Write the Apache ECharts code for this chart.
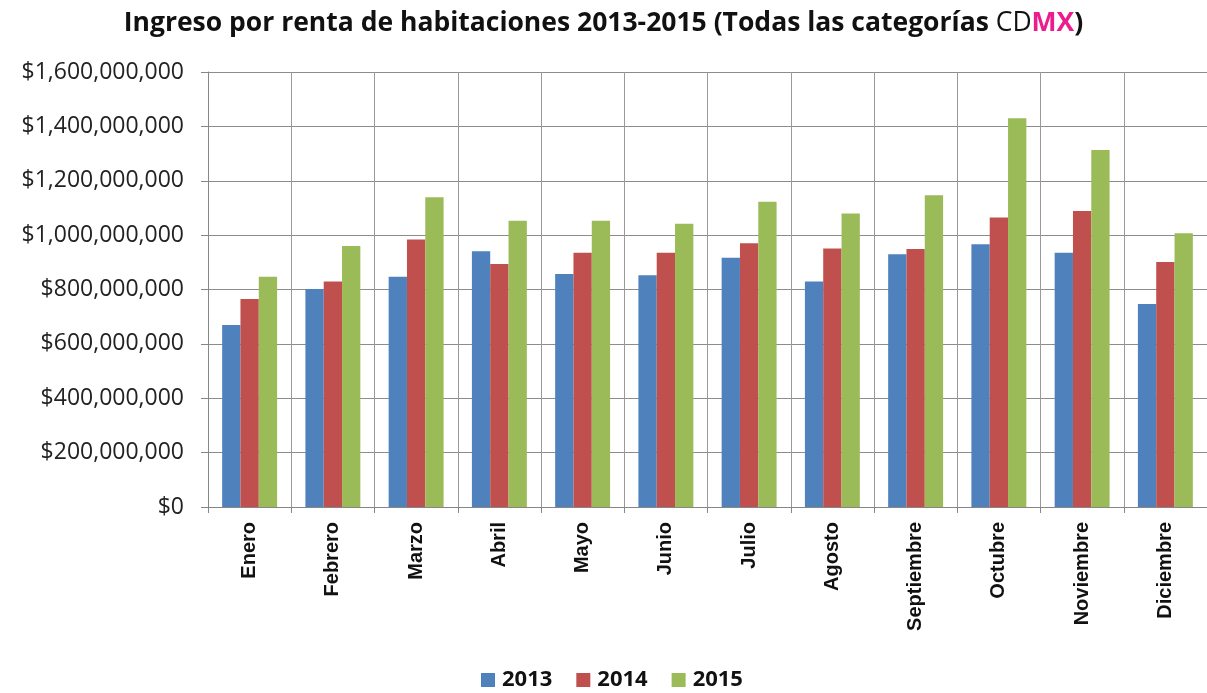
<!DOCTYPE html>
<html>
<head>
<meta charset="utf-8">
<script src="https://cdn.jsdelivr.net/npm/echarts@6/dist/echarts.min.js"></script>
<style>
  html, body { margin: 0; padding: 0; background: #ffffff; }
  #chart { width: 1207px; height: 693px; }
</style>
</head>
<body>
<div id="chart"></div>
<script>
// Monthly room-rental revenue, Mexico City, all hotel categories
const months = ['Enero', 'Febrero', 'Marzo', 'Abril', 'Mayo', 'Junio', 'Julio', 'Agosto', 'Septiembre', 'Octubre', 'Noviembre', 'Diciembre'];
const years = ['2013', '2014', '2015'];
const ingreso2013 = [669e6, 802e6, 847e6, 941e6, 857e6, 852e6, 917e6, 829e6, 930e6, 966e6, 935e6, 747e6];
const ingreso2014 = [765e6, 829e6, 984e6, 894e6, 935e6, 935e6, 970e6, 951e6, 949e6, 1065e6, 1089e6, 901e6];
const ingreso2015 = [847e6, 960e6, 1139e6, 1053e6, 1053e6, 1042e6, 1123e6, 1080e6, 1147e6, 1430e6, 1313e6, 1007e6];
const yMin = 0, yMax = 1600000000, yStep = 200000000;
const colors = ['#4F81BD', '#C0504D', '#9BBB59'];

function money(v) {
  return '$' + Math.round(v).toString().replace(/\B(?=(\d{3})+(?!\d))/g, ',');
}

const chart = echarts.init(document.getElementById('chart'), null, { renderer: 'canvas' });
const seriesData = [ingreso2013, ingreso2014, ingreso2015];
const titleSize = 26.5;

chart.setOption({
  backgroundColor: '#ffffff',
  animation: false,
  color: colors,
  title: {
    text: '{b|Ingreso por renta de habitaciones 2013-2015 (Todas las categorías }{n|CD}{m|MX}{b|)}',
    left: 'center',
    top: 5,
    textStyle: {
      rich: {
        b: { fontFamily: 'Open Sans', fontWeight: 'bold', fontSize: titleSize, color: '#111111' },
        n: { fontFamily: 'Open Sans', fontWeight: 'normal', fontSize: titleSize, color: '#111111' },
        m: { fontFamily: 'Open Sans', fontWeight: 'bold', fontSize: titleSize, color: '#EC1C8C' }
      }
    }
  },
  legend: {
    data: years,
    left: 481,
    top: 669,
    padding: 0,
    itemWidth: 14,
    itemHeight: 14,
    itemGap: 24,
    icon: 'rect',
    textStyle: { fontFamily: 'Open Sans', fontWeight: 'bold', fontSize: 22, color: '#111111', padding: [0, 0, 0, 2] }
  },
  grid: { left: 208, top: 72, bottom: 186, right: -15, containLabel: false },
  xAxis: {
    type: 'category',
    data: months,
    axisLine: { show: true, lineStyle: { color: '#868686', width: 1 } },
    axisTick: { show: true, length: 6, lineStyle: { color: '#868686' } },
    splitLine: { show: true, lineStyle: { color: '#9a9a9a', width: 1 } },
    axisLabel: {
      rotate: 90,
      margin: 15,
      fontFamily: 'Liberation Sans',
      fontWeight: 'bold',
      fontSize: 20,
      color: '#111111'
    }
  },
  yAxis: {
    type: 'value',
    min: yMin,
    max: yMax,
    interval: yStep,
    axisLine: { show: true, lineStyle: { color: '#868686', width: 1 } },
    axisTick: { show: true, length: 7, lineStyle: { color: '#868686' } },
    splitLine: { show: true, lineStyle: { color: '#8c8c8c', width: 1 } },
    axisLabel: {
      margin: 24,
      fontFamily: 'Open Sans',
      fontSize: 23,
      color: '#222222',
      formatter: money
    }
  },
  series: years.map((y, i) => ({
    name: y,
    type: 'bar',
    data: seriesData[i],
    barGap: '0%',
    barCategoryGap: '34%',
    itemStyle: { color: colors[i] }
  }))
});
</script>
</body>
</html>
